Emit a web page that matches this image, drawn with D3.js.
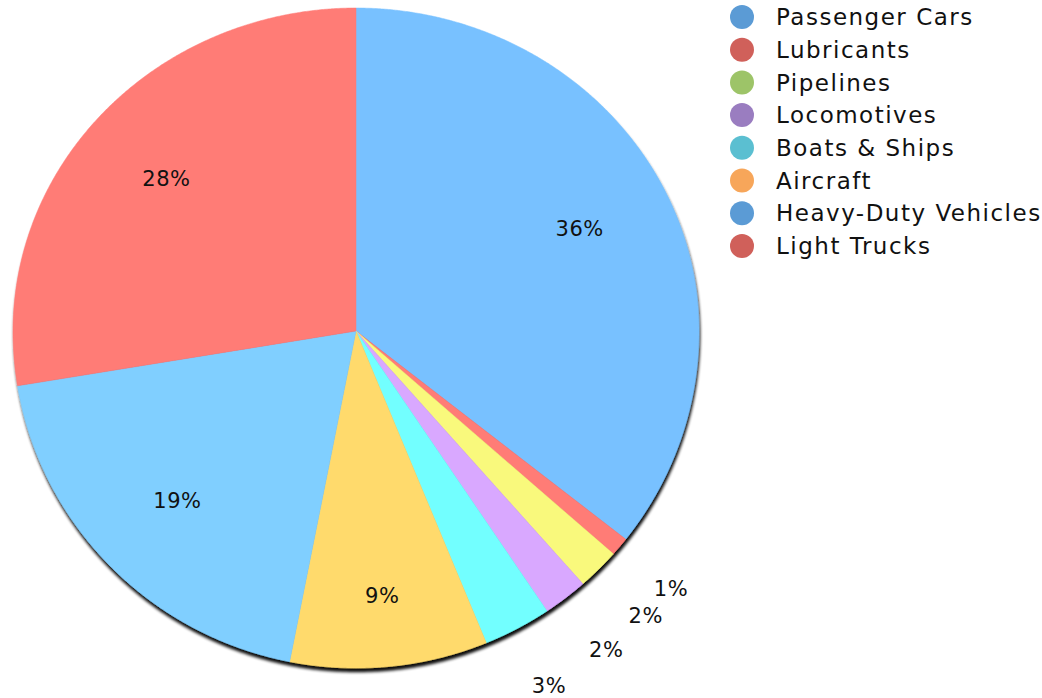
<!DOCTYPE html>
<html><head><meta charset="utf-8">
<script src="https://cdn.jsdelivr.net/npm/d3@7"></script>
<style>body{margin:0;background:#fff;} svg{display:block;}</style>
</head><body>
<svg id="chart" width="1042" height="698"></svg>
<script>
const categories = ["Passenger Cars","Lubricants","Pipelines","Locomotives","Boats & Ships","Aircraft","Heavy-Duty Vehicles","Light Trucks"];
const values = [35.6, 0.9, 2.0, 2.1, 3.2, 9.3, 19.3, 27.6];
const sliceColors = ["#78c1ff","#ff7b76","#f9f97c","#d9a8ff","#72ffff","#ffda6c","#80cfff","#ff7b76"];
const legendColors = ["#5b9bd5","#d0605a","#9dc468","#9a7dc0","#5bbfd1","#f7a65a","#5b9bd5","#d0605a"];

const svg = d3.select("#chart");
const cx = 356, cy = 331, rx = 343, ryTop = 323, ryBottom = 337;
const data = categories.map((c,i)=>({name:c, value:values[i], color:sliceColors[i], legend:legendColors[i]}));
const total = d3.sum(values);

// slightly tilted pie: map (angle, normalized radius) -> screen point
function pt(a, r){
  const c = Math.cos(a);
  const ry = c > 0 ? ryTop : ryBottom;
  return [cx + r*rx*Math.sin(a), cy - r*ry*c];
}

const defs = svg.append("defs");
const f = defs.append("filter").attr("id","shadow").attr("x","-10%").attr("y","-10%").attr("width","120%").attr("height","125%");
f.append("feGaussianBlur").attr("in","SourceAlpha").attr("stdDeviation",1.8).attr("result","b");
f.append("feOffset").attr("in","b").attr("dx",1).attr("dy",4).attr("result","o");
f.append("feComponentTransfer").attr("in","o").attr("result","oc").append("feFuncA").attr("type","linear").attr("slope",0.95);
const m = f.append("feMerge");
m.append("feMergeNode").attr("in","oc");
m.append("feMergeNode").attr("in","SourceGraphic");

const pie = d3.pie().value(d=>d.value).sort(null);
const arcs = pie(data);
const line = d3.line();
function slicePath(d){
  const pts = [[cx,cy]];
  const n = Math.max(2, Math.ceil((d.endAngle-d.startAngle)/0.005));
  for(let i=0;i<=n;i++){
    pts.push(pt(d.startAngle + (d.endAngle-d.startAngle)*i/n, 1));
  }
  return line(pts) + "Z";
}
const pg = svg.append("g").attr("filter","url(#shadow)");
pg.selectAll("path.slice").data(arcs).enter().append("path")
  .attr("class","slice").attr("d",slicePath).attr("fill",d=>d.data.color)
  .attr("stroke",d=>d.data.color).attr("stroke-width",0.5);

const fmt = v => Math.round(v/total*100) + "%";
svg.selectAll("text.lbl").data(arcs).enter().append("text")
  .attr("class","lbl")
  .attr("transform",d=>{
    const a = (d.startAngle+d.endAngle)/2;
    const span = d.endAngle-d.startAngle;
    const r = span < 0.25 ? 1.195 : (span < 0.7 ? 0.79 : 0.725);
    const p = pt(a, r);
    return `translate(${p[0]},${p[1]})`;
  })
  .attr("text-anchor","middle").attr("dy","0.33em")
  .attr("font-family","DejaVu Sans, sans-serif").attr("font-size",21)
  .attr("letter-spacing",0.6)
  .attr("fill","#111")
  .text(d=>fmt(d.data.value));

const leg = svg.append("g").attr("transform","translate(742,17)");
const items = leg.selectAll("g").data(data).enter().append("g")
  .attr("transform",(d,i)=>`translate(0,${i*32.7})`);
items.append("circle").attr("r",12).attr("fill",d=>d.legend);
items.append("text").attr("x",34).attr("dy","0.36em")
  .attr("font-family","DejaVu Sans, sans-serif").attr("font-size",23)
  .attr("letter-spacing",1.5)
  .attr("fill","#111").text(d=>d.name);
</script>
</body></html>
